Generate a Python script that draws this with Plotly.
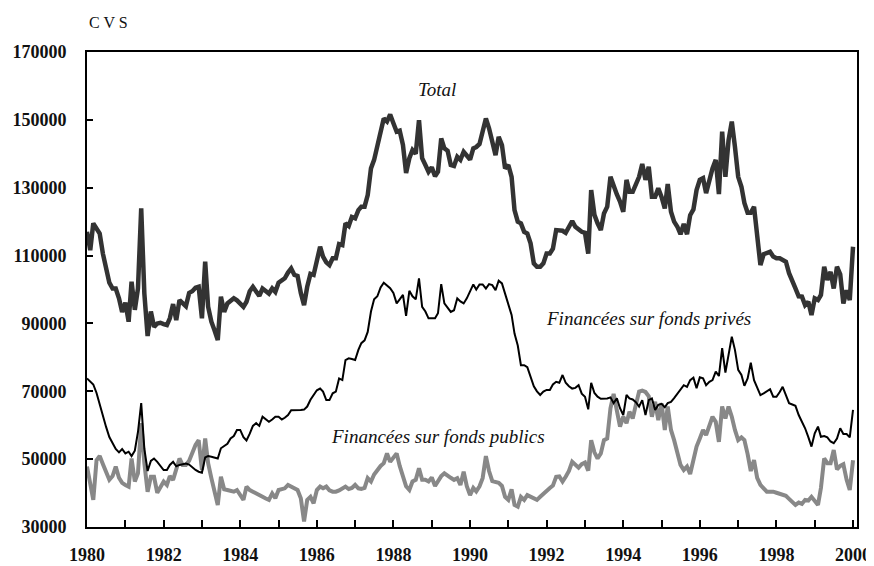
import pandas as pd
import plotly.graph_objects as go

# monthly values, in thousands, Jan 1980 -> Jan 2000 (one row per year)
total = [
    117.0, 111.6, 119.5, 118.0, 116.5, 110.5, 106.0, 102.0, 100.3, 100.3, 97.4, 93.4,
    96.1, 90.5, 102.3, 94.0, 100.3, 123.9, 98.8, 86.3, 93.5, 89.0, 90.0, 90.2,
    89.8, 89.5, 91.5, 95.7, 91.0, 96.9, 96.0, 95.1, 99.0, 99.5, 100.5, 100.8,
    91.5, 108.2, 94.9, 90.5, 88.0, 85.1, 97.9, 93.4, 95.9, 96.5, 97.4, 96.8,
    96.0, 94.9, 96.4, 99.5, 100.8, 99.3, 98.1, 100.3, 99.5, 98.8, 100.3, 99.3,
    102.0, 102.8, 103.3, 105.0, 106.2, 104.3, 104.0, 99.0, 95.4, 100.8, 104.6, 104.3,
    108.5, 112.6, 109.7, 108.0, 107.2, 109.2, 109.2, 113.4, 113.1, 119.5, 118.7, 121.4,
    121.0, 123.4, 124.4, 124.4, 127.8, 135.7, 138.2, 142.1, 147.0, 150.4, 149.5, 151.6,
    149.0, 146.5, 146.8, 142.6, 134.3, 138.7, 141.1, 140.0, 149.9, 138.7, 136.7, 134.7,
    136.0, 133.4, 134.7, 144.5, 141.6, 140.9, 136.7, 136.4, 139.1, 138.2, 140.6, 139.6,
    138.3, 141.6, 142.0, 142.9, 147.0, 150.4, 147.5, 144.0, 139.6, 145.0, 142.6, 135.7,
    136.7, 133.2, 123.4, 120.0, 119.5, 117.0, 116.5, 113.6, 107.7, 106.7, 106.7, 107.7,
    110.6, 110.6, 112.0, 117.5, 117.5, 117.3, 116.7, 118.5, 120.2, 118.5, 117.5, 117.0,
    116.7, 110.6, 129.3, 122.0, 119.5, 117.5, 122.4, 124.4, 133.2, 130.3, 128.0, 125.9,
    122.9, 132.3, 128.8, 128.8, 131.3, 133.2, 137.0, 132.3, 136.2, 127.3, 127.3, 129.8,
    127.3, 123.9, 131.1, 122.9, 120.0, 118.5, 116.3, 119.3, 116.3, 121.9, 123.6, 129.3,
    132.3, 132.8, 128.4, 132.4, 135.7, 138.2, 128.1, 146.5, 133.2, 144.0, 149.5, 142.1,
    133.2, 130.3, 125.5, 122.6, 122.6, 124.4, 116.5, 107.2, 110.4, 110.8, 111.1, 109.7,
    109.2, 109.2, 108.7, 108.2, 104.8, 102.0, 100.3, 98.0, 97.9, 95.4, 96.4, 92.5,
    97.4, 96.9, 98.4, 106.7, 102.8, 105.2, 100.3, 106.7, 104.5, 95.9, 99.8, 96.9,
    112.6,
]

prives = [
    73.8, 73.0, 72.0, 69.5, 66.0, 62.5, 59.5, 56.5, 54.5, 53.0, 52.0, 53.0,
    51.7, 52.2, 50.9, 52.5, 58.0, 66.5, 53.0, 46.5, 49.5, 50.2, 49.2, 48.0,
    46.8, 46.8, 48.3, 49.2, 47.9, 48.3, 48.6, 48.7, 48.4, 47.6, 46.8, 46.3,
    46.0, 50.5, 50.9, 50.7, 50.4, 50.2, 53.2, 53.8, 54.5, 56.1, 56.8, 58.6,
    58.6, 56.5, 55.5, 57.5, 59.8, 60.6, 59.8, 62.5, 61.8, 61.0, 61.7, 62.5,
    62.5, 61.7, 62.2, 63.0, 64.4, 64.4, 64.3, 64.5, 64.6, 65.5, 67.5, 69.0,
    70.3, 70.8, 69.9, 67.4, 67.4, 69.4, 69.9, 73.8, 73.3, 79.2, 79.7, 79.5,
    79.2, 82.2, 84.2, 85.0, 87.5, 93.5, 97.1, 98.0, 100.6, 102.0, 101.2, 100.4,
    99.0, 95.9, 97.1, 98.4, 92.2, 99.6, 98.0, 97.1, 103.3, 94.9, 93.5, 91.5,
    91.5, 91.5, 93.0, 101.6, 95.9, 94.5, 93.4, 93.9, 97.4, 96.5, 95.9, 97.4,
    99.5, 101.5, 100.0, 101.5, 101.5, 100.3, 101.6, 101.3, 99.8, 102.6, 101.8, 99.0,
    95.4, 92.5, 87.0, 83.5, 77.7, 77.7, 77.1, 74.0, 71.5, 70.0, 68.9, 69.9,
    70.4, 70.4, 72.0, 72.8, 72.5, 74.8, 72.5, 71.5, 70.8, 71.0, 71.8, 69.3,
    68.4, 64.7, 72.5, 69.5, 68.4, 67.8, 67.8, 67.9, 68.2, 66.5, 67.9, 65.0,
    63.0, 68.9, 67.9, 67.6, 66.8, 65.5, 67.4, 63.0, 67.4, 67.9, 64.5, 66.0,
    66.3, 65.3, 66.5, 66.9, 68.0, 69.4, 70.5, 71.8, 71.3, 73.3, 74.0, 70.9,
    74.1, 73.8, 71.8, 72.8, 73.3, 75.8, 74.5, 82.7, 75.5, 80.7, 86.1, 82.2,
    76.3, 74.8, 71.6, 73.8, 78.4, 73.3, 70.9, 68.9, 69.4, 70.0, 70.6, 68.4,
    68.4, 69.8, 71.3, 68.9, 66.5, 66.1, 65.7, 63.0, 61.0, 59.1, 56.5, 53.7,
    57.6, 59.6, 56.6, 56.8, 56.4, 55.2, 54.7, 56.1, 59.1, 57.4, 57.4, 56.4,
    64.5,
]

publics = [
    47.8, 43.0, 38.0, 49.7, 50.9, 48.5, 46.5, 43.9, 45.0, 47.8, 44.5, 43.0,
    42.4, 41.9, 50.2, 43.4, 45.8, 60.6, 48.8, 40.4, 44.8, 44.8, 40.1, 41.9,
    43.4, 42.4, 45.0, 43.9, 47.0, 50.2, 48.3, 48.3, 49.5, 51.7, 54.2, 55.6,
    46.8, 56.1, 48.8, 44.4, 39.9, 36.5, 44.8, 41.1, 40.9, 40.6, 40.4, 40.9,
    39.4, 38.0, 41.9, 40.9, 40.4, 39.8, 39.4, 38.9, 38.4, 38.0, 39.9, 38.5,
    40.9, 41.2, 41.4, 42.4, 41.9, 41.2, 40.9, 38.5, 31.6, 38.0, 38.9, 37.0,
    40.9, 41.9, 41.4, 41.9, 40.8, 40.4, 40.4, 40.8, 41.2, 41.9, 41.2, 41.5,
    42.4, 41.4, 41.2, 41.5, 44.4, 43.4, 45.5, 46.8, 48.0, 48.8, 51.7, 49.2,
    50.5, 51.7, 48.0, 44.5, 42.0, 40.9, 43.4, 43.9, 47.3, 43.9, 43.9, 43.4,
    44.6, 42.1, 43.5, 45.0, 45.8, 45.0, 44.5, 43.9, 44.4, 42.4, 46.3, 42.0,
    39.4, 41.5, 40.5, 42.0, 44.4, 50.9, 46.5, 43.5, 43.2, 43.0, 42.1, 38.9,
    38.0, 41.1, 36.5, 36.0, 38.9, 38.0, 39.4, 38.9, 38.5, 38.0, 38.9, 39.8,
    40.9, 41.5, 42.2, 44.8, 44.9, 43.4, 44.8, 46.5, 49.2, 48.5, 47.5, 48.5,
    49.0, 46.6, 55.6, 52.0, 50.2, 51.7, 55.6, 56.1, 65.0, 69.2, 64.5, 59.6,
    62.5, 60.6, 64.0, 62.0, 66.0, 69.9, 70.2, 69.8, 68.5, 62.5, 66.9, 61.5,
    66.5, 58.6, 65.5, 58.6, 55.6, 51.2, 48.3, 46.8, 47.8, 45.6, 49.7, 53.7,
    56.1, 58.6, 57.1, 60.0, 62.5, 61.0, 55.1, 65.5, 62.0, 65.5, 62.5, 58.6,
    55.6, 56.4, 55.6, 51.5, 46.5, 49.7, 44.5, 42.4, 41.5, 40.4, 40.4, 40.4,
    40.1, 39.8, 39.5, 39.2, 38.3, 37.5, 36.5, 37.2, 36.8, 38.0, 37.8, 38.9,
    37.5, 36.5, 41.5, 50.2, 48.8, 48.8, 52.7, 47.0, 48.0, 48.5, 43.9, 40.9,
    49.7,
]

dates = pd.date_range("1980-01-01", periods=len(total), freq="MS")
serif = "Liberation Serif"

fig = go.Figure()
# public first so the others sit on top
fig.add_trace(go.Scatter(x=dates, y=[v * 1000 for v in publics], mode="lines",
                         line=dict(color="#888888", width=4)))
fig.add_trace(go.Scatter(x=dates, y=[v * 1000 for v in prives], mode="lines",
                         line=dict(color="#000000", width=2)))
fig.add_trace(go.Scatter(x=dates, y=[v * 1000 for v in total], mode="lines",
                         line=dict(color="#333333", width=4.5)))

# series labels
lab_font = dict(family=serif, size=19, color="#111111", style="italic")
fig.add_annotation(x="1989-02-15", y=159000, text="Total", showarrow=False, font=lab_font)
fig.add_annotation(x="1994-09-01", y=91600, text="Financées sur fonds privés",
                   showarrow=False, font=lab_font)
fig.add_annotation(x="1989-03-01", y=56800, text="Financées sur fonds publics",
                   showarrow=False, font=lab_font)
fig.add_annotation(x=0, y=1.085, xref="paper", yref="paper", xanchor="left",
                   text="C V S", showarrow=False,
                   font=dict(family=serif, size=16, color="#111111"))

# the page body adds 8px top/left, so the figure is 8px smaller
fig.update_layout(
    width=866, height=558,
    margin=dict(l=79, r=17, t=44, b=39),
    paper_bgcolor="white", plot_bgcolor="white",
    showlegend=False,
    font=dict(family=serif, color="#111111"),
)
fig.update_xaxes(
    range=["1980-01-01", "2000-02-08"], automargin=False,
    dtick="M24", tick0="1980-01-01", tickformat="%Y",
    ticks="inside", ticklen=7, tickwidth=1.5, tickcolor="black",
    minor=dict(dtick="M12", ticks="inside", ticklen=7, tickwidth=1.5, tickcolor="black"),
    showgrid=False, zeroline=False,
    showline=True, linecolor="black", linewidth=2, mirror=True,
    tickfont=dict(family=serif, size=18, weight="bold", color="#111111"),
    ticklabelstandoff=10,
)
fig.update_yaxes(
    range=[30000, 170000], dtick=20000, tick0=30000, tickformat="d", automargin=False,
    ticks="inside", ticklen=6, tickwidth=1.5, tickcolor="black",
    showgrid=False, zeroline=False,
    showline=True, linecolor="black", linewidth=2, mirror=True,
    tickfont=dict(family=serif, size=18, weight="bold", color="#111111"),
    ticklabelstandoff=15,
)

fig.write_html("out.html")
